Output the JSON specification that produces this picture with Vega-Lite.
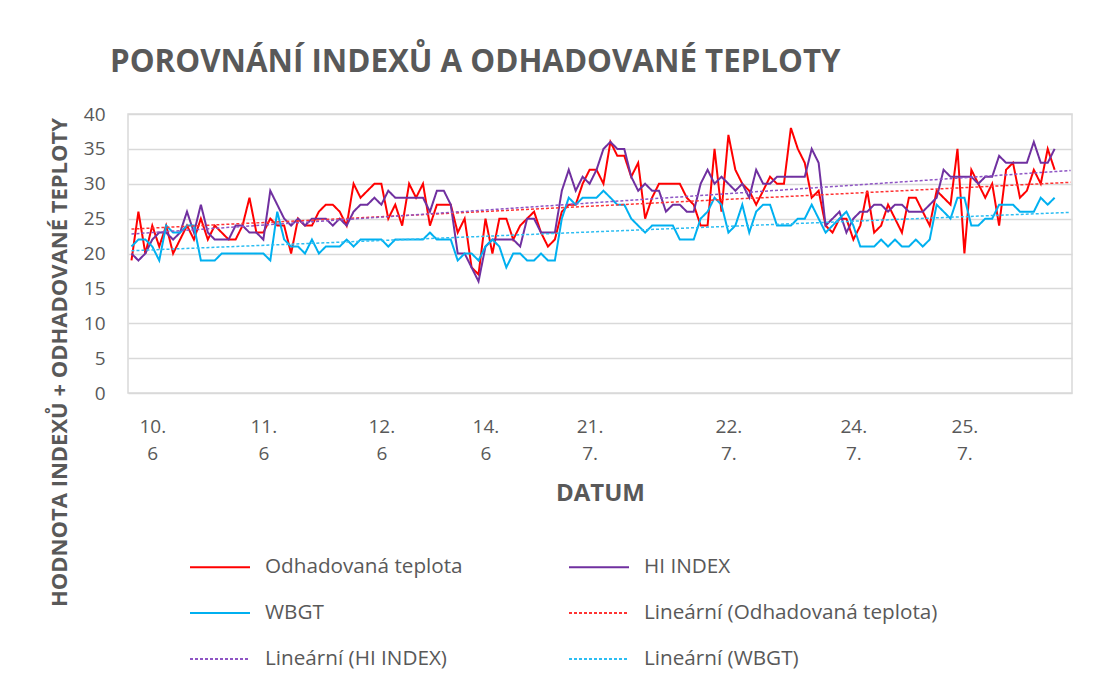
{
  "$schema": "https://vega.github.io/schema/vega-lite/v6.json",
  "width": 944,
  "height": 279,
  "autosize": "none",
  "padding": {"left": 128, "top": 114, "right": 31, "bottom": 289},
  "background": "white",
  "title": {
    "text": "POROVNÁNÍ INDEXŮ A ODHADOVANÉ TEPLOTY",
    "anchor": "start",
    "frame": "group",
    "font": "Open Sans",
    "fontSize": 31.3,
    "fontWeight": "bold",
    "color": "#595959",
    "dx": -18,
    "offset": 27
  },
  "config": {
    "font": "Open Sans",
    "view": {"stroke": "#D9D9D9", "strokeWidth": 1.5},
    "axis": {"labelColor": "#595959", "titleColor": "#595959", "labelFont": "Open Sans", "titleFont": "Open Sans"}
  },
  "datasets": {
    "series": [
      {"k":0,"t":19,"hi":20,"w":21},{"k":1,"t":26,"hi":19,"w":22},{"k":2,"t":20,"hi":20,"w":22},{"k":3,"t":24,"hi":22,"w":21},
      {"k":4,"t":21,"hi":23,"w":19},{"k":5,"t":24,"hi":23,"w":24},{"k":6,"t":20,"hi":22,"w":23},{"k":7,"t":22,"hi":23,"w":23},
      {"k":8,"t":24,"hi":26,"w":24},{"k":9,"t":22,"hi":23,"w":24},{"k":10,"t":25,"hi":27,"w":19},{"k":11,"t":22,"hi":23,"w":19},
      {"k":12,"t":24,"hi":22,"w":19},{"k":13,"t":23,"hi":22,"w":20},{"k":14,"t":22,"hi":22,"w":20},{"k":15,"t":22,"hi":24,"w":20},
      {"k":16,"t":24,"hi":24,"w":20},{"k":17,"t":28,"hi":23,"w":20},{"k":18,"t":23,"hi":23,"w":20},{"k":19,"t":23,"hi":22,"w":20},
      {"k":20,"t":25,"hi":29,"w":19},{"k":21,"t":24,"hi":27,"w":26},{"k":22,"t":24,"hi":25,"w":22},{"k":23,"t":20,"hi":24,"w":21},
      {"k":24,"t":25,"hi":25,"w":21},{"k":25,"t":24,"hi":24,"w":20},{"k":26,"t":24,"hi":25,"w":22},{"k":27,"t":26,"hi":25,"w":20},
      {"k":28,"t":27,"hi":25,"w":21},{"k":29,"t":27,"hi":24,"w":21},{"k":30,"t":26,"hi":25,"w":21},{"k":31,"t":24,"hi":24,"w":22},
      {"k":32,"t":30,"hi":26,"w":21},{"k":33,"t":28,"hi":27,"w":22},{"k":34,"t":29,"hi":27,"w":22},{"k":35,"t":30,"hi":28,"w":22},
      {"k":36,"t":30,"hi":27,"w":22},{"k":37,"t":25,"hi":29,"w":21},{"k":38,"t":27,"hi":28,"w":22},{"k":39,"t":24,"hi":28,"w":22},
      {"k":40,"t":30,"hi":28,"w":22},{"k":41,"t":28,"hi":28,"w":22},{"k":42,"t":30,"hi":28,"w":22},{"k":43,"t":24,"hi":26,"w":23},
      {"k":44,"t":27,"hi":29,"w":22},{"k":45,"t":27,"hi":29,"w":22},{"k":46,"t":27,"hi":27,"w":22},{"k":47,"t":23,"hi":20,"w":19},
      {"k":48,"t":25,"hi":20,"w":20},{"k":49,"t":18,"hi":18,"w":20},{"k":50,"t":17,"hi":16,"w":19},{"k":51,"t":25,"hi":21,"w":21},
      {"k":52,"t":20,"hi":22,"w":22},{"k":53,"t":25,"hi":22,"w":21},{"k":54,"t":25,"hi":22,"w":18},{"k":55,"t":22,"hi":22,"w":20},
      {"k":56,"t":24,"hi":21,"w":20},{"k":57,"t":25,"hi":25,"w":19},{"k":58,"t":26,"hi":25,"w":19},{"k":59,"t":23,"hi":23,"w":20},
      {"k":60,"t":21,"hi":23,"w":19},{"k":61,"t":22,"hi":23,"w":19},{"k":62,"t":26,"hi":29,"w":25},{"k":63,"t":27,"hi":32,"w":28},
      {"k":64,"t":27,"hi":29,"w":27},{"k":65,"t":30,"hi":31,"w":28},{"k":66,"t":32,"hi":30,"w":28},{"k":67,"t":32,"hi":32,"w":28},
      {"k":68,"t":30,"hi":35,"w":29},{"k":69,"t":36,"hi":36,"w":28},{"k":70,"t":34,"hi":35,"w":27},{"k":71,"t":34,"hi":35,"w":27},
      {"k":72,"t":31,"hi":31,"w":25},{"k":73,"t":33,"hi":29,"w":24},{"k":74,"t":25,"hi":30,"w":23},{"k":75,"t":28,"hi":29,"w":24},
      {"k":76,"t":30,"hi":29,"w":24},{"k":77,"t":30,"hi":26,"w":24},{"k":78,"t":30,"hi":27,"w":24},{"k":79,"t":30,"hi":27,"w":22},
      {"k":80,"t":28,"hi":26,"w":22},{"k":81,"t":27,"hi":26,"w":22},{"k":82,"t":24,"hi":30,"w":25},{"k":83,"t":24,"hi":32,"w":26},
      {"k":84,"t":35,"hi":30,"w":28},{"k":85,"t":26,"hi":31,"w":27},{"k":86,"t":37,"hi":30,"w":23},{"k":87,"t":32,"hi":29,"w":24},
      {"k":88,"t":30,"hi":30,"w":27},{"k":89,"t":29,"hi":28,"w":23},{"k":90,"t":27,"hi":32,"w":26},{"k":91,"t":29,"hi":30,"w":27},
      {"k":92,"t":31,"hi":30,"w":27},{"k":93,"t":30,"hi":31,"w":24},{"k":94,"t":30,"hi":31,"w":24},{"k":95,"t":38,"hi":31,"w":24},
      {"k":96,"t":35,"hi":31,"w":25},{"k":97,"t":33,"hi":31,"w":25},{"k":98,"t":28,"hi":35,"w":27},{"k":99,"t":29,"hi":33,"w":25},
      {"k":100,"t":24,"hi":24,"w":23},{"k":101,"t":23,"hi":25,"w":24},{"k":102,"t":25,"hi":26,"w":25},{"k":103,"t":25,"hi":23,"w":26},
      {"k":104,"t":22,"hi":25,"w":24},{"k":105,"t":24,"hi":26,"w":21},{"k":106,"t":29,"hi":26,"w":21},{"k":107,"t":23,"hi":27,"w":21},
      {"k":108,"t":24,"hi":27,"w":22},{"k":109,"t":27,"hi":26,"w":21},{"k":110,"t":25,"hi":27,"w":22},{"k":111,"t":23,"hi":27,"w":21},
      {"k":112,"t":28,"hi":26,"w":21},{"k":113,"t":28,"hi":26,"w":22},{"k":114,"t":26,"hi":26,"w":21},{"k":115,"t":24,"hi":27,"w":22},
      {"k":116,"t":29,"hi":28,"w":27},{"k":117,"t":28,"hi":32,"w":26},{"k":118,"t":27,"hi":31,"w":25},{"k":119,"t":35,"hi":31,"w":28},
      {"k":120,"t":20,"hi":31,"w":28},{"k":121,"t":32,"hi":31,"w":24},{"k":122,"t":30,"hi":30,"w":24},{"k":123,"t":28,"hi":31,"w":25},
      {"k":124,"t":30,"hi":31,"w":25},{"k":125,"t":24,"hi":34,"w":27},{"k":126,"t":32,"hi":33,"w":27},{"k":127,"t":33,"hi":33,"w":27},
      {"k":128,"t":28,"hi":33,"w":26},{"k":129,"t":29,"hi":33,"w":26},{"k":130,"t":32,"hi":36,"w":26},{"k":131,"t":30,"hi":33,"w":28},
      {"k":132,"t":35,"hi":33,"w":27},{"k":133,"t":32,"hi":35,"w":28}
    ],
    "trend": [
      {"k":0,"s":"lt","v":23.5},{"k":135.3,"s":"lt","v":30.2},
      {"k":0,"s":"lhi","v":22.8},{"k":135.3,"s":"lhi","v":31.9},
      {"k":0,"s":"lw","v":20.4},{"k":135.3,"s":"lw","v":25.9}
    ]
  },
  "encoding": {
    "x": {
      "field": "k", "type": "quantitative",
      "scale": {"domain": [-0.5, 135.5], "nice": false, "zero": false},
      "axis": {
        "title": "DATUM",
        "values": [3, 19, 36, 51, 66, 86, 104, 120],
        "labelExpr": "datum.value == 3 ? ['10.','6'] : datum.value == 19 ? ['11.','6'] : datum.value == 36 ? ['12.','6'] : datum.value == 51 ? ['14.','6'] : datum.value == 66 ? ['21.','7.'] : datum.value == 86 ? ['22.','7.'] : datum.value == 104 ? ['24.','7.'] : ['25.','7.']",
        "labelFontSize": 19,
        "labelLineHeight": 27,
        "labelPadding": 24,
        "labelOverlap": false,
        "labelFlush": false,
        "ticks": false,
        "domain": false,
        "grid": false,
        "titleFontSize": 24,
        "titleFontWeight": "bold",
        "titlePadding": 18
      }
    },
    "y": {
      "field": "v", "type": "quantitative",
      "scale": {"domain": [0, 40], "nice": false},
      "axis": {
        "title": "HODNOTA INDEXŮ + ODHADOVANÉ TEPLOTY",
        "values": [0, 5, 10, 15, 20, 25, 30, 35, 40],
        "labelFontSize": 19,
        "labelPadding": 23,
        "ticks": false,
        "domain": false,
        "grid": true,
        "gridColor": "#D9D9D9",
        "gridWidth": 1.5,
        "titleFontSize": 22,
        "titleFontWeight": "bold",
        "titleAngle": 270,
        "titleAlign": "center",
        "titleBaseline": "middle",
        "titleX": -69,
        "titleY": 248
      }
    },
    "color": {
      "field": "s", "type": "nominal",
      "scale": {
        "domain": ["t", "w", "lhi", "hi", "lt", "lw"],
        "range": ["#FF0000", "#00B0F0", "#8E55C4", "#7030A0", "#FF3333", "#2CBDF2"]
      },
      "legend": {
        "title": null,
        "orient": "none",
        "legendX": 81,
        "legendY": 442,
        "columns": 2,
        "columnPadding": 102,
        "rowPadding": 25,
        "padding": 0,
        "symbolType": "M-3,0H3",
        "symbolSize": 400,
        "symbolStrokeWidth": 2,
        "labelOffset": 34,
        "labelFontSize": 20.7,
        "labelColor": "#595959",
        "labelFont": "Open Sans",
        "labelLimit": 400,
        "labelExpr": "datum.label == 't' ? 'Odhadovaná teplota' : datum.label == 'hi' ? 'HI INDEX' : datum.label == 'w' ? 'WBGT' : datum.label == 'lt' ? 'Lineární (Odhadovaná teplota)' : datum.label == 'lhi' ? 'Lineární (HI INDEX)' : 'Lineární (WBGT)'"
      }
    },
    "strokeDash": {
      "field": "s", "type": "nominal",
      "scale": {
        "domain": ["t", "w", "lhi", "hi", "lt", "lw"],
        "range": [[1, 0], [1, 0], [3, 2], [1, 0], [3, 2], [3, 2]]
      },
      "legend": null
    }
  },
  "layer": [
    {
      "data": {"name": "series"},
      "transform": [{"fold": ["t", "hi", "w"], "as": ["s", "v"]}],
      "mark": {"type": "line", "strokeWidth": 2, "interpolate": "linear"}
    },
    {
      "data": {"name": "trend"},
      "mark": {"type": "line", "strokeWidth": 1.5}
    }
  ]
}
